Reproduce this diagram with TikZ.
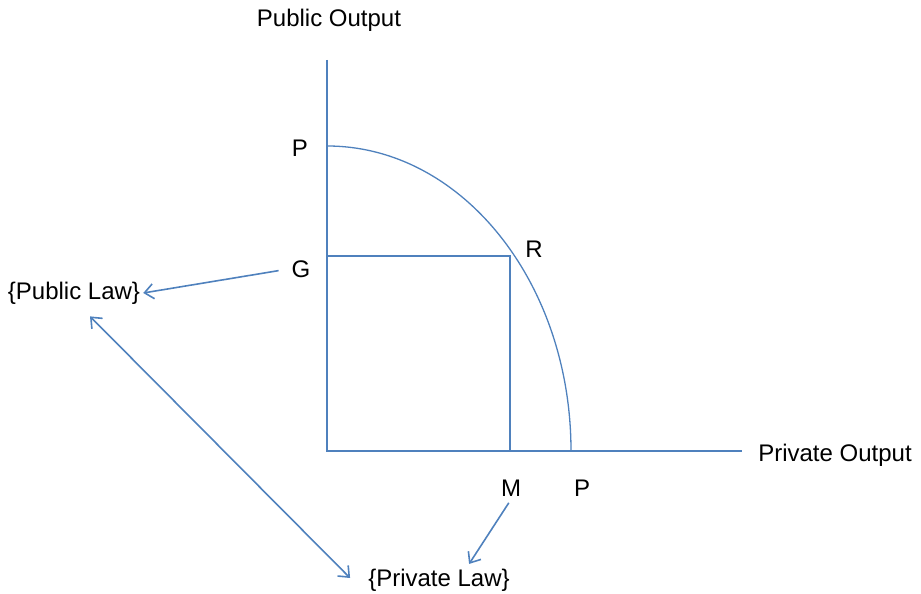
\documentclass[tikz,border=0pt]{standalone}
\usepackage{fontspec}
\setmainfont{Liberation Sans}
\usetikzlibrary{arrows.meta}
\definecolor{lineblue}{RGB}{79,129,189}
\tikzset{
  axis/.style={draw=lineblue, line width=2pt},
  frontier/.style={draw=lineblue, line width=1.3pt},
  link/.style={draw=lineblue, line width=1.6pt},
  lbl/.style={font=\fontsize{24}{28}\selectfont, inner sep=3pt},
}

\begin{document}
\begin{tikzpicture}[x=1pt, y=1pt,
        >={Straight Barb[length=9pt,width=15pt]}]
      \useasboundingbox (0,0) rectangle (921,594);
      % axes and frontier
      \draw[axis] (327,534) -- (327,143) -- (742,143);
      \draw[frontier] (327,448) arc[start angle=90, end angle=0, x radius=244, y radius=305];
      \draw[axis] (327,338) -- (510,338) -- (510,143);
      % labels
      \node[lbl] (pubout) at (329,574) {Public Output};
      \node[lbl] (privout) at (835,139) {Private Output};
      \node[lbl] (ptop) at (300,446) {P};
      \node[lbl] (g) at (301,325) {G};
      \node[lbl] (r) at (534,345) {R};
      \node[lbl] (m) at (511,106) {M};
      \node[lbl] (pright) at (582,106) {P};
      \node[lbl] (publaw) at (74,301) {\{Public Law\}};
      \node[lbl] (privlaw) at (439,14) {\{Private Law\}};
      % arrows
      \draw[link, ->, shorten <=10pt] (g.west) -- (publaw.east);
      \draw[link, ->, shorten <=4pt, shorten >=2pt] (m.south) -- ([xshift=29pt]privlaw.north);
      \draw[link, <->] ([xshift=16pt,yshift=-9pt]publaw.south) -- ([xshift=-15pt,yshift=2pt]privlaw.west);
    \end{tikzpicture}
\end{document}
